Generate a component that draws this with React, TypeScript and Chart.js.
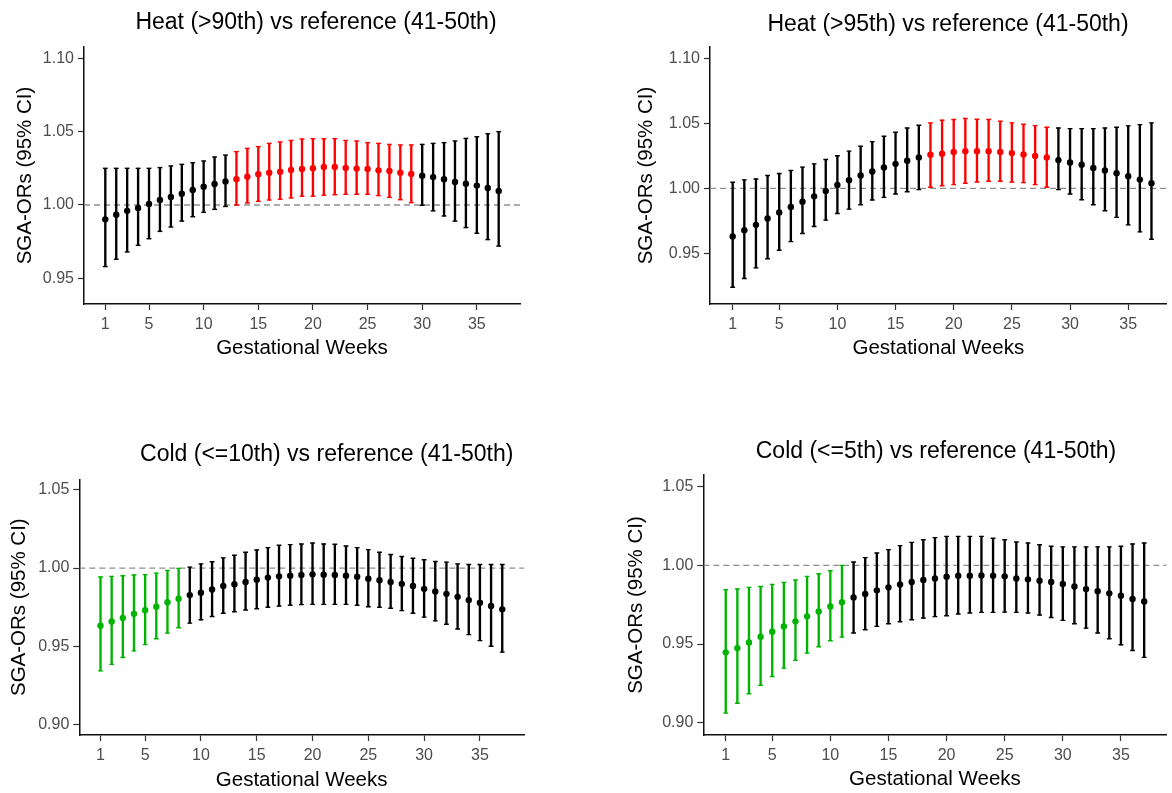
import React, { useEffect, useRef } from "react";
import { Chart, registerables } from "chart.js";

Chart.register(...registerables);

const FONT = '"Liberation Sans", Arial, Helvetica, sans-serif';
Chart.defaults.font.family = FONT;

// ---------------- data ----------------
const weeks = [1, 2, 3, 4, 5, 6, 7, 8, 9, 10, 11, 12, 13, 14, 15, 16, 17, 18, 19, 20, 21, 22, 23, 24, 25, 26, 27, 28, 29, 30, 31, 32, 33, 34, 35, 36, 37];
const xTickValues = [1, 5, 10, 15, 20, 25, 30, 35];
const yTicksHeat = [0.95, 1.0, 1.05, 1.1];
const yTicksCold = [0.9, 0.95, 1.0, 1.05];

const heat90Est = [0.9902, 0.9934, 0.996, 0.998, 1.0007, 1.0034, 1.0055, 1.0077, 1.0102, 1.0125, 1.0143, 1.016, 1.0175, 1.0193, 1.021, 1.022, 1.0227, 1.0239, 1.0245, 1.025, 1.0259, 1.0259, 1.0252, 1.0248, 1.0245, 1.0236, 1.0232, 1.022, 1.0211, 1.02, 1.019, 1.0175, 1.0157, 1.0145, 1.0132, 1.0116, 1.0095];
const heat90Lo = [0.958, 0.963, 0.968, 0.9725, 0.977, 0.982, 0.985, 0.989, 0.992, 0.995, 0.997, 0.999, 1.0, 1.0014, 1.0025, 1.0034, 1.0039, 1.0048, 1.006, 1.006, 1.0066, 1.007, 1.0073, 1.0073, 1.0073, 1.0064, 1.0052, 1.0036, 1.0016, 0.9998, 0.996, 0.9925, 0.989, 0.9846, 0.9807, 0.9764, 0.972];
const heat90Hi = [1.025, 1.025, 1.025, 1.025, 1.025, 1.0255, 1.0266, 1.0277, 1.0288, 1.03, 1.0327, 1.034, 1.0364, 1.0386, 1.0398, 1.042, 1.043, 1.044, 1.045, 1.0452, 1.0452, 1.0452, 1.044, 1.0436, 1.0425, 1.042, 1.0413, 1.0409, 1.0409, 1.0413, 1.042, 1.0425, 1.0436, 1.0454, 1.0465, 1.0486, 1.05];
const heat90SigWeeks = [13, 29];

const heat95Est = [0.9629, 0.9678, 0.9719, 0.9768, 0.9814, 0.9856, 0.9897, 0.9938, 0.998, 1.0026, 1.0062, 1.0098, 1.0129, 1.016, 1.0188, 1.0212, 1.0237, 1.0258, 1.0266, 1.0279, 1.0286, 1.0286, 1.0286, 1.0279, 1.0271, 1.0261, 1.0248, 1.0237, 1.0217, 1.0199, 1.0181, 1.0157, 1.0137, 1.0116, 1.0093, 1.0067, 1.0039];
const heat95Lo = [0.9239, 0.9306, 0.9388, 0.9458, 0.9523, 0.959, 0.9652, 0.9706, 0.9755, 0.9806, 0.984, 0.9874, 0.991, 0.993, 0.9956, 0.9974, 0.999, 1.0008, 1.002, 1.0028, 1.0039, 1.0049, 1.0054, 1.0054, 1.0049, 1.0044, 1.0028, 1.0008, 0.999, 0.9956, 0.9912, 0.9874, 0.9827, 0.9776, 0.9719, 0.9665, 0.9608];
const heat95Hi = [1.0046, 1.0065, 1.0072, 1.0098, 1.0114, 1.0137, 1.0163, 1.0188, 1.0222, 1.025, 1.0286, 1.0323, 1.0359, 1.04, 1.0431, 1.0464, 1.0485, 1.0503, 1.0524, 1.0529, 1.0537, 1.0531, 1.0529, 1.0516, 1.0503, 1.0493, 1.0482, 1.047, 1.0464, 1.0459, 1.0459, 1.0459, 1.0464, 1.047, 1.048, 1.049, 1.0503];
const heat95SigWeeks = [18, 28];

const cold10Est = [0.9631, 0.9658, 0.9681, 0.9707, 0.973, 0.9753, 0.9781, 0.9804, 0.9827, 0.9842, 0.9863, 0.9886, 0.9897, 0.9911, 0.9926, 0.9939, 0.9947, 0.9951, 0.9956, 0.996, 0.9958, 0.9956, 0.9951, 0.9945, 0.9932, 0.9922, 0.9911, 0.9899, 0.9886, 0.9867, 0.985, 0.9835, 0.9816, 0.9795, 0.9778, 0.9757, 0.9736];
const cold10Lo = [0.9342, 0.9384, 0.9428, 0.947, 0.951, 0.9548, 0.9584, 0.9618, 0.9648, 0.9669, 0.969, 0.9711, 0.9721, 0.9732, 0.974, 0.9749, 0.9757, 0.9762, 0.9766, 0.9768, 0.9768, 0.9768, 0.9768, 0.9762, 0.9753, 0.9749, 0.9743, 0.9728, 0.9711, 0.9686, 0.9662, 0.9641, 0.961, 0.9574, 0.9536, 0.95, 0.9462];
const cold10Hi = [0.9943, 0.9947, 0.9951, 0.9956, 0.9958, 0.9968, 0.9985, 0.9998, 1.0006, 1.0027, 1.004, 1.0065, 1.0082, 1.0101, 1.0116, 1.0131, 1.0146, 1.015, 1.0154, 1.016, 1.0154, 1.0152, 1.0141, 1.0131, 1.0118, 1.0101, 1.0087, 1.0074, 1.0063, 1.0053, 1.0042, 1.0038, 1.0027, 1.0023, 1.0023, 1.0023, 1.0023];
const cold10SigWeeks = [1, 8];

const cold5Est = [0.9447, 0.9474, 0.951, 0.9546, 0.9578, 0.9612, 0.9644, 0.9676, 0.9707, 0.9739, 0.9765, 0.9796, 0.9818, 0.9841, 0.986, 0.9879, 0.9894, 0.9907, 0.9917, 0.9928, 0.9934, 0.9934, 0.9936, 0.9934, 0.993, 0.9917, 0.9911, 0.9902, 0.9894, 0.9881, 0.9866, 0.9849, 0.9835, 0.9822, 0.9807, 0.9786, 0.9771];
const cold5Lo = [0.9061, 0.9124, 0.9184, 0.9237, 0.9294, 0.9347, 0.9396, 0.9442, 0.9483, 0.9521, 0.9544, 0.957, 0.9591, 0.9612, 0.9629, 0.9642, 0.9654, 0.9665, 0.9674, 0.968, 0.9691, 0.9697, 0.9701, 0.9701, 0.9703, 0.9701, 0.9697, 0.9684, 0.9669, 0.965, 0.9629, 0.9601, 0.957, 0.9534, 0.9495, 0.9459, 0.9415];
const cold5Hi = [0.9845, 0.985, 0.986, 0.9866, 0.9879, 0.9892, 0.9907, 0.993, 0.9947, 0.9966, 1.0, 1.0021, 1.0049, 1.0078, 1.01, 1.0125, 1.0146, 1.0163, 1.0176, 1.0184, 1.0184, 1.0184, 1.0184, 1.0172, 1.0163, 1.0148, 1.0142, 1.0131, 1.0121, 1.0117, 1.0117, 1.0117, 1.0117, 1.0117, 1.0121, 1.0136, 1.0142];
const cold5SigWeeks = [1, 11];

const referenceValue = 1.0;

// ---------------- styling ----------------
const BLACK = "#000000";
const RED = "#ff0000";
const GREEN = "#00b300";
const AXIS_TITLE_SIZE = 20.5;

type Panel = {
  title: string;
  est: number[];
  lo: number[];
  hi: number[];
  sig: number[];
  sigColor: string;
  yTicks: number[];
  yMin: number;
  yMax: number;
  xMin: number;
  xMax: number;
  box: { left: number; top: number; width: number; height: number };
  pad: { left: number; right: number; top: number; bottom: number };
  yW: number;
  xH: number;
  titleX: number;
  titleY: number;
};

const panels: Panel[] = [
  {
    title: "Heat (>90th) vs reference (41-50th)",
    est: heat90Est, lo: heat90Lo, hi: heat90Hi, sig: heat90SigWeeks, sigColor: RED,
    yTicks: yTicksHeat, yMin: 0.9325, yMax: 1.1077, xMin: -0.95, xMax: 38.95,
    box: { left: 0, top: 0, width: 586, height: 396 },
    pad: { left: 12.7, right: 66, top: 47, bottom: 35.7 },
    yW: 71.3, xH: 56.3, titleX: 316, titleY: 23,
  },
  {
    title: "Heat (>95th) vs reference (41-50th)",
    est: heat95Est, lo: heat95Lo, hi: heat95Hi, sig: heat95SigWeeks, sigColor: RED,
    yTicks: yTicksHeat, yMin: 0.911, yMax: 1.1087, xMin: -0.95, xMax: 38.3,
    box: { left: 586, top: 0, width: 586, height: 396 },
    pad: { left: 47.7, right: 0, top: 47, bottom: 35.7 },
    yW: 76.3, xH: 56.3, titleX: 362, titleY: 25,
  },
  {
    title: "Cold (<=10th) vs reference (41-50th)",
    est: cold10Est, lo: cold10Lo, hi: cold10Hi, sig: cold10SigWeeks, sigColor: GREEN,
    yTicks: yTicksCold, yMin: 0.8932, yMax: 1.0568, xMin: -0.9, xMax: 38.95,
    box: { left: 0, top: 396, width: 586, height: 397 },
    pad: { left: 6.7, right: 62, top: 83.3, bottom: 0.7 },
    yW: 72.6, xH: 57.3, titleX: 326.7, titleY: 59,
  },
  {
    title: "Cold (<=5th) vs reference (41-50th)",
    est: cold5Est, lo: cold5Lo, hi: cold5Hi, sig: cold5SigWeeks, sigColor: GREEN,
    yTicks: yTicksCold, yMin: 0.8922, yMax: 1.0574, xMin: -0.93, xMax: 38.93,
    box: { left: 586, top: 396, width: 586, height: 397 },
    pad: { left: 37.7, right: 0, top: 79, bottom: 1.4 },
    yW: 79.6, xH: 56.6, titleX: 350, titleY: 55.7,
  },
];

const panelTitlePlugin = {
  id: "panelTitle",
  afterDraw(chart: any, _args: any, opts: any) {
    const ctx = chart.ctx;
    ctx.save();
    ctx.font = `${opts.size}px ${FONT}`;
    ctx.fillStyle = opts.color;
    ctx.textAlign = "center";
    ctx.textBaseline = "middle";
    ctx.fillText(opts.text, opts.x, opts.y);
    ctx.restore();
  },
};

function PanelChart({ p }: { p: Panel }) {
  const ref = useRef<HTMLCanvasElement>(null);
  useEffect(() => {
    if (!ref.current) return;
    const colors = weeks.map((w) => (w >= p.sig[0] && w <= p.sig[1] ? p.sigColor : BLACK));
    const chart = new Chart(ref.current, {
      type: "scatter",
      data: {
        datasets: [
          {
            type: "scatter",
            data: weeks.map((w, i) => ({ x: w, y: p.est[i] })),
            pointRadius: 3.2,
            pointBackgroundColor: colors,
            pointBorderWidth: 0,
            order: 0,
          } as any,
          {
            type: "scatter",
            data: weeks.map((w, i) => ({ x: w, y: p.hi[i] })),
            pointStyle: "line",
            pointRadius: 2.4,
            pointBorderColor: colors,
            pointBorderWidth: 1.4,
            order: 1,
          } as any,
          {
            type: "scatter",
            data: weeks.map((w, i) => ({ x: w, y: p.lo[i] })),
            pointStyle: "line",
            pointRadius: 2.4,
            pointBorderColor: colors,
            pointBorderWidth: 1.4,
            order: 1,
          } as any,
          {
            type: "bar",
            data: weeks.map((w, i) => ({ x: w, y: [p.lo[i], p.hi[i]] })),
            backgroundColor: colors,
            borderWidth: 0,
            barThickness: 1.7,
            order: 2,
          } as any,
          {
            type: "line",
            data: [
              { x: p.xMin, y: referenceValue },
              { x: p.xMax, y: referenceValue },
            ],
            borderColor: "#8f8f8f",
            borderWidth: 1.3,
            borderDash: [6, 4],
            pointRadius: 0,
            order: 3,
          } as any,
        ],
      },
      options: {
        animation: false,
        responsive: false,
        devicePixelRatio: 1,
        events: [],
        layout: { padding: p.pad },
        plugins: {
          legend: { display: false },
          tooltip: { enabled: false },
          title: { display: false },
          panelTitle: { text: p.title, x: p.titleX, y: p.titleY, size: 23, color: "#000" },
        } as any,
        scales: {
          x: {
            type: "linear",
            min: p.xMin,
            max: p.xMax,
            offset: false,
            afterBuildTicks: (s: any) => {
              s.ticks = xTickValues.map((v) => ({ value: v }));
            },
            afterFit: (s: any) => {
              s.height = p.xH;
            },
            ticks: {
              autoSkip: false,
              maxRotation: 0,
              color: "#4d4d4d",
              font: { size: 16 },
              padding: 5,
              callback: (v: any) => String(v),
            },
            grid: {
              display: true,
              offset: false,
              drawOnChartArea: false,
              drawTicks: true,
              tickLength: 6,
              tickColor: "#333",
              tickWidth: 1.2,
            },
            border: { display: true, color: "#111", width: 1.5 },
            title: {
              display: true,
              text: "Gestational Weeks",
              color: "#000",
              font: { size: AXIS_TITLE_SIZE },
              padding: 0,
            },
          },
          y: {
            type: "linear",
            min: p.yMin,
            max: p.yMax,
            afterBuildTicks: (s: any) => {
              s.ticks = p.yTicks.map((v) => ({ value: v }));
            },
            afterFit: (s: any) => {
              s.width = p.yW;
            },
            ticks: {
              color: "#4d4d4d",
              font: { size: 16 },
              padding: 4,
              callback: (v: any) => Number(v).toFixed(2),
            },
            grid: {
              display: true,
              drawOnChartArea: false,
              drawTicks: true,
              tickLength: 6,
              tickColor: "#333",
              tickWidth: 1.2,
            },
            border: { display: true, color: "#111", width: 1.5 },
            title: {
              display: true,
              text: "SGA-ORs (95% CI)",
              color: "#000",
              font: { size: AXIS_TITLE_SIZE },
              padding: 0,
            },
          },
        },
      },
      plugins: [panelTitlePlugin as any],
    } as any);
    return () => chart.destroy();
  }, [p]);

  return (
    <canvas
      ref={ref}
      width={p.box.width}
      height={p.box.height}
      style={{
        position: "absolute",
        left: p.box.left,
        top: p.box.top,
        width: p.box.width,
        height: p.box.height,
      }}
    />
  );
}

export default function App() {
  useEffect(() => {
    document.body.style.overflow = "hidden";
  }, []);
  return (
    <div>
      {panels.map((p, i) => (
        <PanelChart key={i} p={p} />
      ))}
    </div>
  );
}
